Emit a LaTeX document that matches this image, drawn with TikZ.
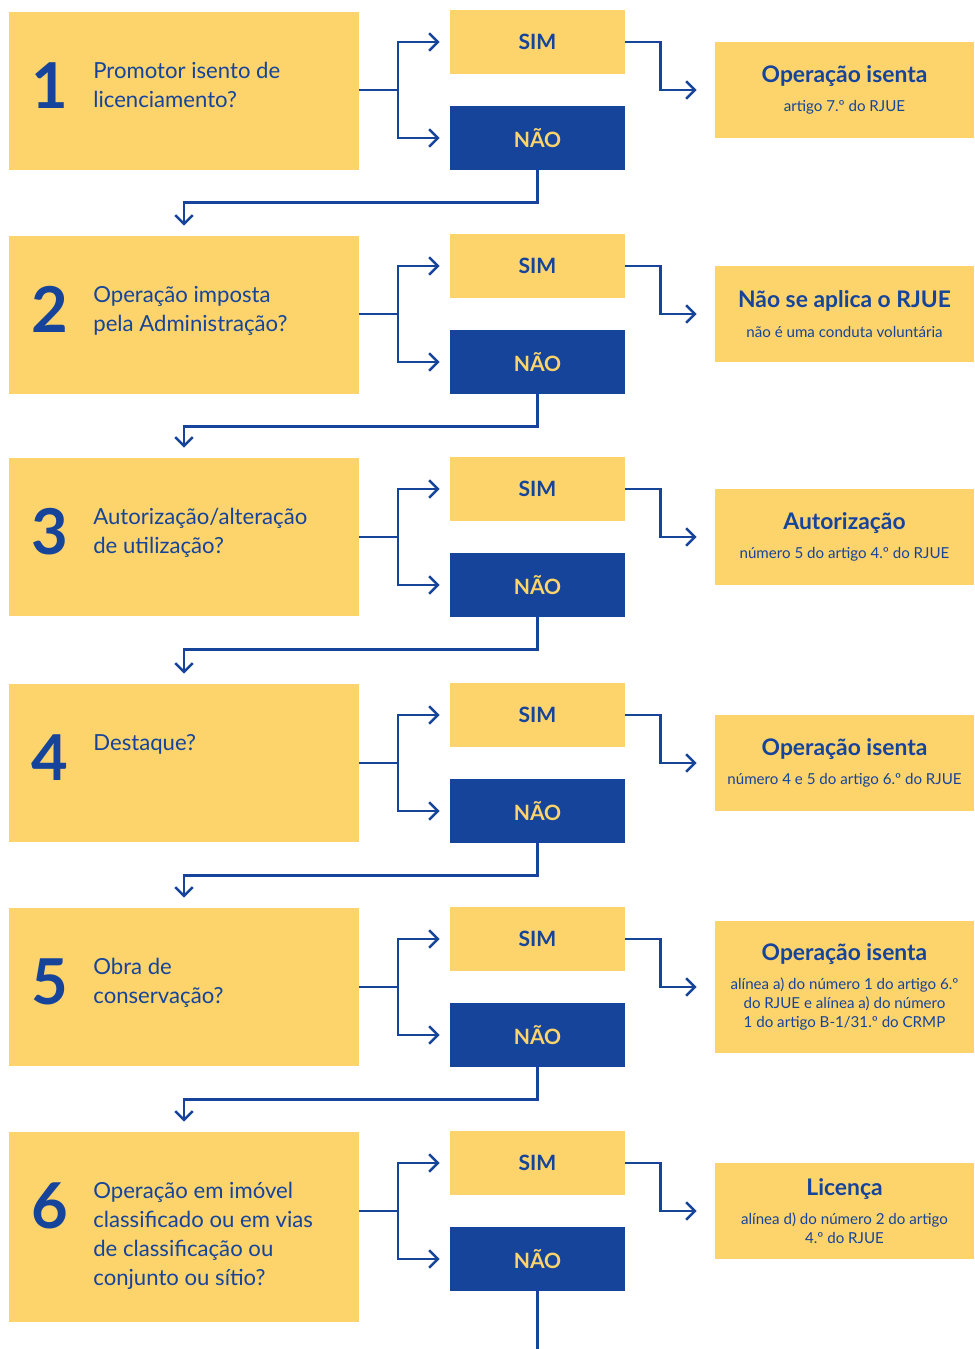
\documentclass[tikz,border=0pt]{standalone}
\usepackage{fontspec}
\setmainfont{Lato}
\usetikzlibrary{arrows.meta, positioning, calc}
\definecolor{ouro}{HTML}{FDD36C}
\definecolor{azul}{HTML}{15449A}
\newcommand{\titulo}[1]{{\fontsize{13}{15}\selectfont\bfseries #1}}

\begin{document}
\begin{tikzpicture}[
    x=0.02cm, y=-0.02cm,
    pergunta/.style={rectangle, fill=ouro, minimum width=7cm, minimum height=3.16cm, inner sep=0pt},
    numero/.style={anchor=north, inner sep=0pt, text=azul, font=\fontsize{36}{36}\selectfont\bfseries},
    texto/.style={anchor=north west, inner sep=0pt, align=left, text=azul, font=\fontsize{12.6}{16.4}\selectfont},
    sim/.style={rectangle, fill=ouro, text=azul, minimum width=3.5cm, minimum height=1.28cm, font=\fontsize{12}{12}\selectfont\bfseries},
    nao/.style={sim, fill=azul, text=ouro},
    result/.style={rectangle, fill=ouro, text=azul, align=center, minimum width=5.18cm, minimum height=1.92cm, font=\fontsize{8.6}{10.8}\selectfont},
    linha/.style={draw=azul, line width=1.4pt},
    seta/.style={linha, -{Straight Barb[length=5pt, width=10pt]}}
]
\useasboundingbox (0,0) rectangle (974,1349);

% Nodes
\node[pergunta] (q1) at (184,91) {};
\node[numero] (k1) at (50,62) {1};
\node[texto] (t1) at (93,62) {Promotor isento de\\licenciamento?};
\node[sim] (s1) at (537.5,42) {SIM};
\node[nao] (n1) at (537.5,138) {NÃO};
\node[result] (r1) at (844.5,90) {\titulo{Operação isenta}\\[6pt]artigo 7.º do RJUE};

\node[pergunta] (q2) at (184,315) {};
\node[numero] (k2) at (50,286) {2};
\node[texto] (t2) at (93,286) {Operação imposta\\pela Administração?};
\node[sim] (s2) at (537.5,266) {SIM};
\node[nao] (n2) at (537.5,362) {NÃO};
\node[result] (r2) at (844.5,314) {\titulo{Não se aplica o RJUE}\\[6pt]não é uma conduta voluntária};

\node[pergunta] (q3) at (184,537) {};
\node[numero] (k3) at (50,508) {3};
\node[texto] (t3) at (93,508) {Autorização/alteração\\de utilização?};
\node[sim] (s3) at (537.5,489) {SIM};
\node[nao] (n3) at (537.5,585) {NÃO};
\node[result] (r3) at (844.5,537) {\titulo{Autorização}\\[6pt]número 5 do artigo 4.º do RJUE};

\node[pergunta] (q4) at (184,763) {};
\node[numero] (k4) at (50,734) {4};
\node[texto] (t4) at (93,734) {Destaque?};
\node[sim] (s4) at (537.5,715) {SIM};
\node[nao] (n4) at (537.5,811) {NÃO};
\node[result] (r4) at (844.5,763) {\titulo{Operação isenta}\\[6pt]número 4 e 5 do artigo 6.º do RJUE};

\node[pergunta] (q5) at (184,987) {};
\node[numero] (k5) at (50,958) {5};
\node[texto] (t5) at (93,958) {Obra de\\conservação?};
\node[sim] (s5) at (537.5,939) {SIM};
\node[nao] (n5) at (537.5,1035) {NÃO};
\node[result, minimum height=2.64cm] (r5) at (844.5,987) {\titulo{Operação isenta}\\[6pt]alínea a) do número 1 do artigo 6.º\\do RJUE e alínea a) do número\\1 do artigo B-1/31.º do CRMP};

\node[pergunta, minimum height=3.8cm] (q6) at (184,1227) {};
\node[numero] (k6) at (50,1182) {6};
\node[texto] (t6) at (93,1182) {Operação em imóvel\\classificado ou em vias\\de classificação ou\\conjunto ou sítio?};
\node[sim] (s6) at (537.5,1163) {SIM};
\node[nao] (n6) at (537.5,1259) {NÃO};
\node[result] (r6) at (844.5,1211) {\titulo{Licença}\\[6pt]alínea d) do número 2 do artigo\\4.º do RJUE};

\coordinate (b1) at (398,90);
\coordinate (b2) at (398,314);
\coordinate (b3) at (398,537);
\coordinate (b4) at (398,763);
\coordinate (b5) at (398,987);
\coordinate (b6) at (398,1211);
\coordinate (fim) at (537.5,1349);

% Paths
\draw[linha] (q1.east|-b1) -- (b1);
\draw[seta, shorten >=0.2cm] (b1) |- (s1.west);
\draw[seta, shorten >=0.2cm] (b1) |- (n1.west);
\draw[seta, shorten >=0.36cm] (s1.east) -- ++(35,0) |- (r1.west);
\draw[seta, shorten >=0.2cm] (n1.south) -- ++(0,32) -| (q2.north);

\draw[linha] (q2.east|-b2) -- (b2);
\draw[seta, shorten >=0.2cm] (b2) |- (s2.west);
\draw[seta, shorten >=0.2cm] (b2) |- (n2.west);
\draw[seta, shorten >=0.36cm] (s2.east) -- ++(35,0) |- (r2.west);
\draw[seta, shorten >=0.2cm] (n2.south) -- ++(0,32) -| (q3.north);

\draw[linha] (q3.east|-b3) -- (b3);
\draw[seta, shorten >=0.2cm] (b3) |- (s3.west);
\draw[seta, shorten >=0.2cm] (b3) |- (n3.west);
\draw[seta, shorten >=0.36cm] (s3.east) -- ++(35,0) |- (r3.west);
\draw[seta, shorten >=0.2cm] (n3.south) -- ++(0,32) -| (q4.north);

\draw[linha] (q4.east|-b4) -- (b4);
\draw[seta, shorten >=0.2cm] (b4) |- (s4.west);
\draw[seta, shorten >=0.2cm] (b4) |- (n4.west);
\draw[seta, shorten >=0.36cm] (s4.east) -- ++(35,0) |- (r4.west);
\draw[seta, shorten >=0.2cm] (n4.south) -- ++(0,32) -| (q5.north);

\draw[linha] (q5.east|-b5) -- (b5);
\draw[seta, shorten >=0.2cm] (b5) |- (s5.west);
\draw[seta, shorten >=0.2cm] (b5) |- (n5.west);
\draw[seta, shorten >=0.36cm] (s5.east) -- ++(35,0) |- (r5.west);
\draw[seta, shorten >=0.2cm] (n5.south) -- ++(0,32) -| (q6.north);

\draw[linha] (q6.east|-b6) -- (b6);
\draw[seta, shorten >=0.2cm] (b6) |- (s6.west);
\draw[seta, shorten >=0.2cm] (b6) |- (n6.west);
\draw[seta, shorten >=0.36cm] (s6.east) -- ++(35,0) |- (r6.west);
\draw[linha] (n6.south) -- (fim);
\end{tikzpicture}
\end{document}
